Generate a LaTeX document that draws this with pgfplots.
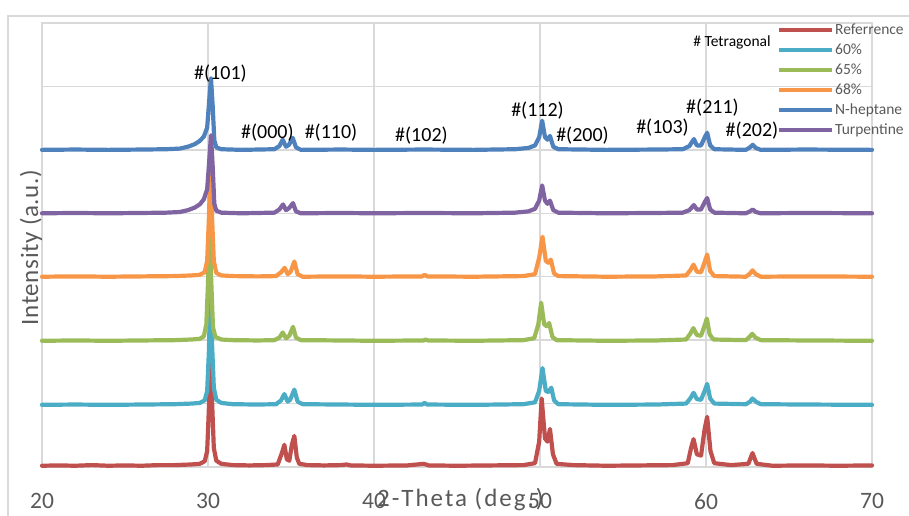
\documentclass[border=0pt]{standalone}
\usepackage{fontspec}
\setmainfont{Carlito}
\usepackage{pgfplots}
\pgfplotsset{compat=1.18}
\definecolor{cref}{HTML}{C0504D}
\definecolor{csixty}{HTML}{4BACC6}
\definecolor{csixtyfive}{HTML}{9BBB59}
\definecolor{csixtyeight}{HTML}{F79646}
\definecolor{chept}{HTML}{4F81BD}
\definecolor{cturp}{HTML}{8064A2}
\definecolor{gridc}{HTML}{D9D9D9}
\definecolor{txtg}{HTML}{595959}
\begin{document}
\begin{tikzpicture}
\useasboundingbox (0pt,0pt) rectangle (909pt,515pt);
\draw[gridc, line width=1.5pt] (8pt,-10pt) rectangle (930pt,499pt);
\begin{axis}[
  at={(42pt,48pt)}, anchor=south west,
  scale only axis, width=830pt, height=444pt,
  xmin=20, xmax=70, ymin=0, ymax=7,
  xtick={20,30,40,50,60,70}, ytick={0,1,2,3,4,5,6,7},
  yticklabels={},
  grid=major, major grid style={gridc, line width=1.5pt},
  axis line style={gridc, line width=1.5pt},
  tick style={draw=none},
  /pgf/number format/assume math mode=true,
  xticklabel style={font=\fontsize{23.5}{26}\selectfont, text=txtg, inner sep=0pt, anchor=north, yshift=-26.5pt},
  clip=false,
  legend style={at={(0.8855,1.002)}, anchor=north west, draw=none, fill=none, inner sep=0pt, outer sep=0pt,
    font=\fontsize{15.5}{18}\selectfont, text=txtg, row sep=3.5pt,
    nodes={inner sep=1pt, text height=11pt, text depth=3.5pt},
    /tikz/every even column/.append style={column sep=3pt}},
  legend cell align=left,
  legend image code/.code={\draw[#1, line width=4.2pt, line cap=butt] (0pt,0pt) -- (53pt,0pt);},
  every axis plot/.append style={line width=4.2pt, line join=round, line cap=round},
]
\addplot[cref] table {
x y
20 0.02
21 0.025
22 0.02
23 0.03
24 0.02
25 0.025
26 0.02
27 0.03
28 0.03
29 0.04
29.5 0.05
29.8 0.09
29.95 0.25
30.05 0.9
30.15 2.2
30.25 1.0
30.35 0.3
30.5 0.1
30.8 0.05
31.5 0.03
32.5 0.025
33.5 0.03
34.2 0.04
34.45 0.22
34.6 0.35
34.75 0.12
34.9 0.10
35.05 0.35
35.2 0.49
35.35 0.15
35.5 0.05
36 0.03
37 0.025
38 0.03
38.35 0.04
38.6 0.025
40 0.02
42 0.025
43.0 0.05
43.3 0.025
45 0.02
47 0.025
49 0.03
49.7 0.06
49.95 0.4
50.1 1.08
50.3 0.45
50.45 0.4
50.6 0.6
50.78 0.2
51.0 0.05
52 0.03
54 0.02
56 0.025
58 0.03
58.9 0.06
59.1 0.3
59.25 0.44
59.45 0.2
59.7 0.18
59.92 0.6
60.07 0.79
60.27 0.25
60.5 0.06
61.5 0.03
62.55 0.05
62.8 0.22
63.05 0.05
64 0.02
66 0.025
68 0.02
70 0.025
};
\addlegendentry{Referrence}
\addplot[csixty] table {
x y
20 0.98
22 0.985
24 0.98
26 0.985
28 0.99
29 1.0
29.5 1.01
29.8 1.05
29.95 1.2
30.05 1.8
30.15 2.78
30.25 1.9
30.35 1.25
30.5 1.06
30.8 1.01
31.5 0.99
33 0.985
34.1 0.99
34.4 1.05
34.6 1.15
34.8 1.03
34.95 1.06
35.2 1.22
35.4 1.03
35.7 0.99
38 0.985
40 0.98
42.9 0.985
43.05 1.01
43.2 0.985
46 0.98
49 0.99
49.7 1.02
49.95 1.2
50.15 1.56
50.35 1.2
50.5 1.18
50.68 1.25
50.85 1.05
51.1 0.99
54 0.98
57 0.985
58.8 1.0
59.05 1.08
59.25 1.17
59.45 1.07
59.7 1.06
59.92 1.2
60.07 1.31
60.25 1.08
60.5 1.0
62.4 0.99
62.65 1.03
62.8 1.08
63.0 1.03
63.3 0.99
66 0.985
70 0.98
};
\addlegendentry{60\%}
\addplot[csixtyfive] table {
x y
20 1.99
22 1.995
24 1.99
26 1.995
28 2.0
29 2.01
29.5 2.02
29.75 2.06
29.9 2.25
30.0 2.9
30.1 3.7
30.2 2.9
30.3 2.2
30.45 2.05
30.8 2.01
31.5 2.0
33 1.995
34.0 2.0
34.3 2.04
34.5 2.12
34.7 2.03
34.9 2.07
35.12 2.21
35.3 2.04
35.6 2.0
38 1.995
40 1.99
43 1.995
43.1 2.01
43.25 1.995
46 1.99
49 2.0
49.65 2.03
49.9 2.25
50.07 2.59
50.25 2.25
50.4 2.22
50.55 2.27
50.75 2.05
51.0 2.0
54 1.99
57 1.995
58.8 2.01
59.05 2.1
59.24 2.19
59.45 2.08
59.7 2.07
59.9 2.22
60.05 2.34
60.22 2.09
60.45 2.01
62.4 2.0
62.62 2.05
62.78 2.1
62.98 2.04
63.3 2.0
66 1.995
70 1.99
};
\addlegendentry{65\%}
\addplot[csixtyeight] table {
x y
20 3.0
22 3.005
24 3.0
26 3.005
28 3.01
29 3.02
29.5 3.03
29.8 3.07
29.95 3.25
30.05 3.9
30.15 4.7
30.25 3.9
30.35 3.25
30.5 3.06
30.8 3.02
31.5 3.01
33 3.005
34.1 3.01
34.4 3.07
34.62 3.14
34.8 3.04
34.98 3.08
35.2 3.24
35.4 3.04
35.7 3.0
38 3.005
40 3.0
42.9 3.005
43.05 3.03
43.2 3.005
46 3.0
49 3.01
49.7 3.04
49.95 3.3
50.15 3.63
50.35 3.25
50.5 3.22
50.65 3.27
50.85 3.05
51.1 3.01
54 3.0
57 3.005
58.8 3.02
59.05 3.1
59.25 3.19
59.45 3.08
59.7 3.07
59.92 3.23
60.07 3.35
60.25 3.09
60.5 3.01
62.4 3.0
62.65 3.05
62.8 3.1
63.0 3.04
63.3 3.0
66 3.005
70 3.0
};
\addlegendentry{68\%}
\addplot[chept] table {
x y
20 5.0
22 5.005
24 5.0
26 5.005
27.5 5.01
28.3 5.02
28.8 5.05
29.2 5.09
29.5 5.14
29.75 5.21
29.95 5.35
30.08 5.8
30.18 6.13
30.28 5.7
30.38 5.15
30.5 5.04
30.8 5.01
32 5.0
34.0 5.01
34.3 5.06
34.5 5.16
34.7 5.05
34.88 5.08
35.1 5.19
35.3 5.04
35.6 5.0
38 5.005
40 5.0
43 5.005
46 5.0
48.5 5.01
49.3 5.03
49.7 5.07
49.95 5.2
50.13 5.46
50.3 5.2
50.45 5.16
50.6 5.22
50.8 5.05
51.1 5.01
54 5.0
57 5.005
58.6 5.01
59.0 5.06
59.27 5.17
59.45 5.07
59.7 5.07
59.93 5.2
60.07 5.27
60.25 5.07
60.5 5.01
62.4 5.0
62.65 5.04
62.82 5.08
63.0 5.03
63.3 5.0
66 5.005
70 5.0
};
\addlegendentry{N-heptane}
\addplot[cturp] table {
x y
20 4.0
22 4.005
24 4.0
26 4.005
27.5 4.01
28.3 4.02
28.8 4.05
29.2 4.09
29.5 4.14
29.75 4.22
29.95 4.38
30.08 4.85
30.18 5.23
30.28 4.75
30.38 4.15
30.5 4.04
30.8 4.01
32 4.0
34.0 4.01
34.3 4.06
34.52 4.14
34.7 4.05
34.88 4.08
35.12 4.16
35.3 4.03
35.6 4.0
38 4.005
40 4.0
43 4.005
46 4.0
48.5 4.01
49.3 4.03
49.7 4.07
49.95 4.2
50.13 4.44
50.3 4.2
50.45 4.15
50.6 4.2
50.8 4.05
51.1 4.01
54 4.0
57 4.005
58.6 4.01
59.0 4.05
59.27 4.13
59.45 4.06
59.7 4.06
59.93 4.18
60.07 4.24
60.25 4.06
60.5 4.01
62.4 4.0
62.65 4.03
62.82 4.06
63.0 4.02
63.3 4.0
66 4.005
70 4.0
};
\addlegendentry{Turpentine}
\node[font=\fontsize{20}{22}\selectfont] at (axis cs:30.75,6.21) {\#(101)};
\node[font=\fontsize{20}{22}\selectfont] at (axis cs:33.58,5.28) {\#(000)};
\node[font=\fontsize{20}{22}\selectfont] at (axis cs:37.41,5.27) {\#(110)};
\node[font=\fontsize{20}{22}\selectfont] at (axis cs:42.86,5.23) {\#(102)};
\node[font=\fontsize{20}{22}\selectfont] at (axis cs:49.85,5.62) {\#(112)};
\node[font=\fontsize{20}{22}\selectfont] at (axis cs:52.56,5.23) {\#(200)};
\node[font=\fontsize{20}{22}\selectfont] at (axis cs:57.38,5.35) {\#(103)};
\node[font=\fontsize{20}{22}\selectfont] at (axis cs:60.39,5.66) {\#(211)};
\node[font=\fontsize{20}{22}\selectfont] at (axis cs:62.77,5.31) {\#(202)};
\node[font=\fontsize{15.5}{18}\selectfont] at (axis cs:61.57,6.69) {\# Tetragonal};
\node[rotate=90, font=\fontsize{25}{28}\selectfont\addfontfeatures{LetterSpace=2.5}, text=txtg] at (axis cs:19.34,3.46) {Intensity (a.u.)};
\node[anchor=base, font=\fontsize{25}{28}\selectfont\addfontfeatures{LetterSpace=8}, text=txtg] at (axis cs:45.2,-0.63) {2-Theta (deg.)};
\end{axis}
\end{tikzpicture}
\end{document}
